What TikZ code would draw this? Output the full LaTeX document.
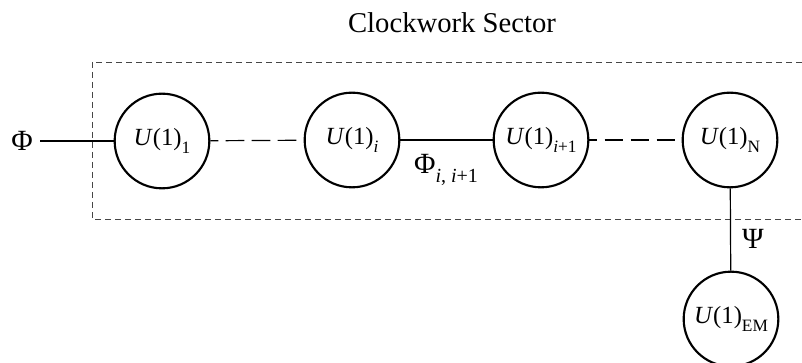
\documentclass[tikz,border=0pt]{standalone}
\usepackage{fontspec}
\setmainfont{Liberation Serif}

% lowered index set at a fixed size
\newcommand{\idx}[2][13]{\raisebox{-0.3em}{\fontsize{#1}{#1}\selectfont #2}}

\tikzset{every picture/.style={line width=0.75pt}}
\tikzset{
  gauge/.style={draw, circle, line width=1.6pt, minimum size=71pt, inner sep=0pt, font=\fontsize{18.5}{22}\selectfont},
  field/.style={inner sep=0.75pt, font=\fontsize{22}{26}\selectfont},
  link/.style={line width=0.9pt},
  chain/.style={line width=0.9pt, dash pattern=on 14pt off 5.5pt, dash phase=8pt},
  sector/.style={line width=0.6pt, color={rgb, 255:red, 70; green, 70; blue, 70}, dash pattern=on 4.5pt off 3pt}
}

\begin{document}
\begin{tikzpicture}[x=0.75pt,y=0.75pt,yscale=-1,xscale=1]
\useasboundingbox (0,0) rectangle (802,363);

%Shape: Rectangle (open on the right)
\draw [sector]  (802,62) -- (92,62) -- (92,219) -- (802,219) ;

%Shape: Circle
\node [gauge] (u1) at (162,141) {\textit{U}(1)\idx{1}};
%Shape: Circle
\node [gauge] (ui) at (352,140) {\textit{U}(1)\idx{\textit{i}}};
%Shape: Circle
\node [gauge] (uj) at (541,140) {\textit{U}(1)\idx{\textit{i}+1}};
%Shape: Circle
\node [gauge] (un) at (730,140) {\textit{U}(1)\idx{N}};
%Shape: Circle
\node [gauge] (uem) at (731,319) {\textit{U}(1)\idx{EM}};

% Text Node
\node [field] (phi) at (22,141) {Φ};
% Text Node
\node [field] (phiij) at (446,170) {Φ\idx[15]{\textit{i}, \textit{i}+1}};
% Text Node
\node [field] (psi) at (753,239) {Ψ};
% Text Node
\node [inner sep=0.75pt, font=\fontsize{21.5}{26}\selectfont] (title) at (452,23) {Clockwork Sector};

%Straight Lines
\draw [link]  (phi) ++(18,0) -- (u1) ;
%Straight Lines
\draw [chain]  (u1) -- (ui) ;
%Straight Lines
\draw [link]  (ui) -- (uj) ;
%Straight Lines
\draw [chain]  (uj) -- (un) ;
%Straight Lines
\draw [link]  (un) -- (uem) ;

\end{tikzpicture}
\end{document}
